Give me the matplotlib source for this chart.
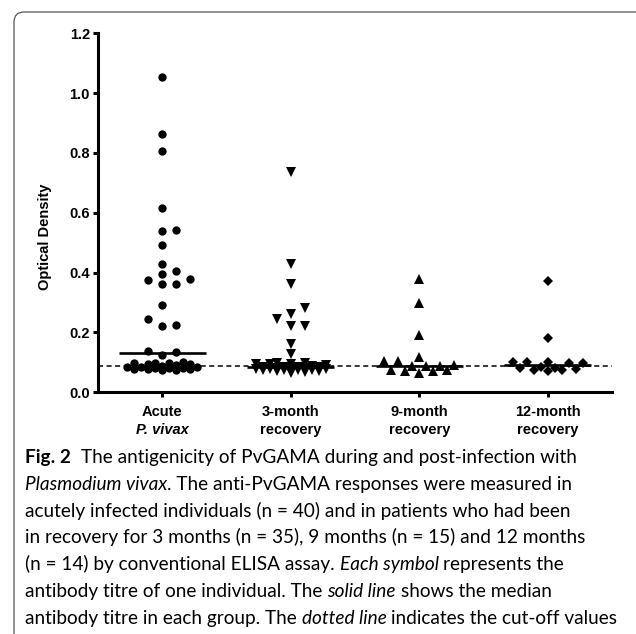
import matplotlib
matplotlib.use('Agg')
import matplotlib.pyplot as plt
import numpy as np
from matplotlib import font_manager
from matplotlib.patches import FancyBboxPatch

# ---------------- data ----------------
categories = ["Acute", "3-month", "9-month", "12-month"]
category_sub = ["P. vivax", "recovery", "recovery", "recovery"]
category_sub_italic = [True, False, False, False]

acute = [1.053, 0.863, 0.805, 0.615, 0.544, 0.539, 0.493, 0.430, 0.404, 0.395,
         0.379, 0.374, 0.363, 0.361, 0.291, 0.244, 0.224, 0.221, 0.139, 0.136,
         0.124, 0.102, 0.099, 0.098, 0.097, 0.096, 0.093, 0.090, 0.087, 0.085,
         0.084, 0.083, 0.082, 0.081, 0.080, 0.079, 0.078, 0.077, 0.076, 0.075]
three_month = [0.735, 0.428, 0.361, 0.282, 0.263, 0.244, 0.222, 0.222, 0.163, 0.127,
               0.098, 0.097, 0.096, 0.096, 0.095, 0.090, 0.088, 0.086, 0.085, 0.084,
               0.083, 0.082, 0.081, 0.080, 0.079, 0.078, 0.077, 0.076, 0.075, 0.074,
               0.073, 0.072, 0.070, 0.068, 0.066]
nine_month = [0.380, 0.299, 0.191, 0.119, 0.104, 0.104, 0.090, 0.089, 0.088, 0.087,
              0.075, 0.073, 0.072, 0.070, 0.066]
twelve_month = [0.372, 0.183, 0.102, 0.101, 0.100, 0.099, 0.098, 0.083, 0.081, 0.080,
                0.078, 0.076, 0.074, 0.072]
cutoff = 0.089

y_ticks = [0.0, 0.2, 0.4, 0.6, 0.8, 1.0, 1.2]
y_label = "Optical Density"

caption_lines = [
    [("Fig. 2", "b"), ("  The antigenicity of PvGAMA during and post-infection with", "n")],
    [("Plasmodium vivax", "i"), (". The anti-PvGAMA responses were measured in", "n")],
    [("acutely infected individuals (n = 40) and in patients who had been", "n")],
    [("in recovery for 3 months (n = 35), 9 months (n = 15) and 12 months", "n")],
    [("(n = 14) by conventional ELISA assay. ", "n"), ("Each symbol", "i"), (" represents the", "n")],
    [("antibody titre of one individual. The ", "n"), ("solid line", "i"), (" shows the median", "n")],
    [("antibody titre in each group. The ", "n"), ("dotted line", "i"), (" indicates the cut-off values", "n")],
]

groups = [acute, three_month, nine_month, twelve_month]
markers = ['o', 'v', '^', 'D']
msizes = [6.0, 6.6, 6.6, 5.2]

# ---------------- fonts ----------------
avail = {f.name for f in font_manager.fontManager.ttflist}
tick_family = ['Liberation Sans', 'DejaVu Sans'] if 'Liberation Sans' in avail else ['DejaVu Sans']
cap_family = next(f for f in ['Liberation Sans Narrow', 'Lato', 'DejaVu Sans'] if f in avail)
plt.rcParams['font.family'] = tick_family
plt.rcParams['font.weight'] = 'bold'
plt.rcParams['font.size'] = 10.5
TICK_FS = 10.5

# ---------------- figure ----------------
W, H = 636, 634
fig = plt.figure(figsize=(W / 100, H / 100), dpi=100)
renderer = fig.canvas.get_renderer()

frame_bottom = -0.2
frame_top = 1 - 12 / H
frame = FancyBboxPatch((14 / W, frame_bottom), 1.2, frame_top - frame_bottom,
                       boxstyle="round,pad=0,rounding_size=0.016",
                       transform=fig.transFigure, facecolor='none',
                       edgecolor='#555555', linewidth=0.9)
fig.add_artist(frame)

ax_l, ax_b, ax_w, ax_h = 98, 634 - 392.3, 514, 359.0
ax = fig.add_axes([ax_l / W, ax_b / H, ax_w / W, ax_h / H])
ax.set_xlim(-0.5, 3.5)
ax.set_ylim(0, 1.2)
PPX = ax_w / 4.0
PPY = ax_h / 1.2


def swarm_offsets(vals, xstep=7.0, cx=13.0, cy=8.5, maxw=36.0):
    ypx = np.asarray(vals) * PPY
    order = np.argsort(ypx)
    px, py = [], []
    off = np.zeros(len(vals))
    cands = [0.0]
    for k in range(1, int(maxw // xstep) + 1):
        cands += [k * xstep, -k * xstep]
    for i in order:
        y = ypx[i]
        best, bestscore = 0.0, -1.0
        for c in cands:
            if px:
                d = np.min(((np.array(px) - c) / cx) ** 2 + ((np.array(py) - y) / cy) ** 2)
            else:
                d = np.inf
            if d >= 1:
                best = c
                break
            if d > bestscore:
                bestscore, best = d, c
        px.append(best)
        py.append(y)
        off[i] = best
    return off / PPX


for i, (vals, mk, ms) in enumerate(zip(groups, markers, msizes)):
    xs = i + swarm_offsets(vals)
    ax.plot(xs, vals, linestyle='none', marker=mk, markersize=ms,
            color='black', markeredgewidth=0, zorder=3)
    med = np.median(vals)
    ax.hlines(med, i - 0.34, i + 0.34, color='black', linewidth=1.9, zorder=4)

ax.axhline(cutoff, color='black', linewidth=1.1, linestyle=(0, (3.3, 2.3)), zorder=2)

for s in ['top', 'right']:
    ax.spines[s].set_visible(False)
for s in ['left', 'bottom']:
    ax.spines[s].set_linewidth(2.2)
ax.set_yticks(y_ticks)
ax.set_yticklabels([f"{v:.1f}" for v in y_ticks])
ax.set_xticks(range(len(categories)))
ax.set_xticklabels([""] * len(categories))
ax.tick_params(axis='both', direction='out', length=3.8, width=2.2, pad=2,
               labelsize=TICK_FS)

for i, (c, sub, it) in enumerate(zip(categories, category_sub, category_sub_italic)):
    ax.annotate(c, xy=(i, 0), xycoords=('data', 'axes fraction'),
                xytext=(0, -14.0), textcoords='offset points',
                ha='center', va='center', fontsize=TICK_FS, fontweight='bold',
                family=tick_family)
    ax.annotate(sub, xy=(i, 0), xycoords=('data', 'axes fraction'),
                xytext=(0, -27.1), textcoords='offset points',
                ha='center', va='center', fontsize=TICK_FS, fontweight='bold',
                fontstyle='italic' if it else 'normal', family=tick_family)

fig.text(45 / W, 1 - 237 / H, y_label, rotation=90, ha='center', va='center',
         fontsize=TICK_FS, fontweight='bold', family=tick_family)


# ---------------- caption ----------------
def text_width(s, size, weight='normal', style='normal'):
    t = fig.text(0, 0, s, fontsize=size, family=cap_family, fontweight=weight, fontstyle=style)
    w = t.get_window_extent(renderer).width
    t.remove()
    return w


def layout_line(pieces, size, x0, ybase, draw=True):
    sp = text_width("a a", size) - text_width("aa", size)
    x = x0
    for txt, st in pieces:
        lead = len(txt) - len(txt.lstrip(' '))
        trail = len(txt) - len(txt.rstrip(' '))
        core = txt.strip(' ')
        x += lead * sp
        kw = dict(fontsize=size, family=cap_family,
                  fontweight='bold' if st == 'b' else 'normal',
                  fontstyle='italic' if st == 'i' else 'normal')
        t = fig.text(x / W, 1 - ybase / H, core, ha='left', va='baseline', **kw)
        w = t.get_window_extent(renderer).width
        if not draw:
            t.remove()
        x += w + trail * sp
    return x - x0


trial = 14.0
wtrial = layout_line(caption_lines[-1], trial, 0, 0, draw=False)
cap_size = trial * 594.0 / wtrial
for k, line in enumerate(caption_lines):
    layout_line(line, cap_size, 25, 463 + 26.8 * k)

fig.savefig('out.png', dpi=100)
